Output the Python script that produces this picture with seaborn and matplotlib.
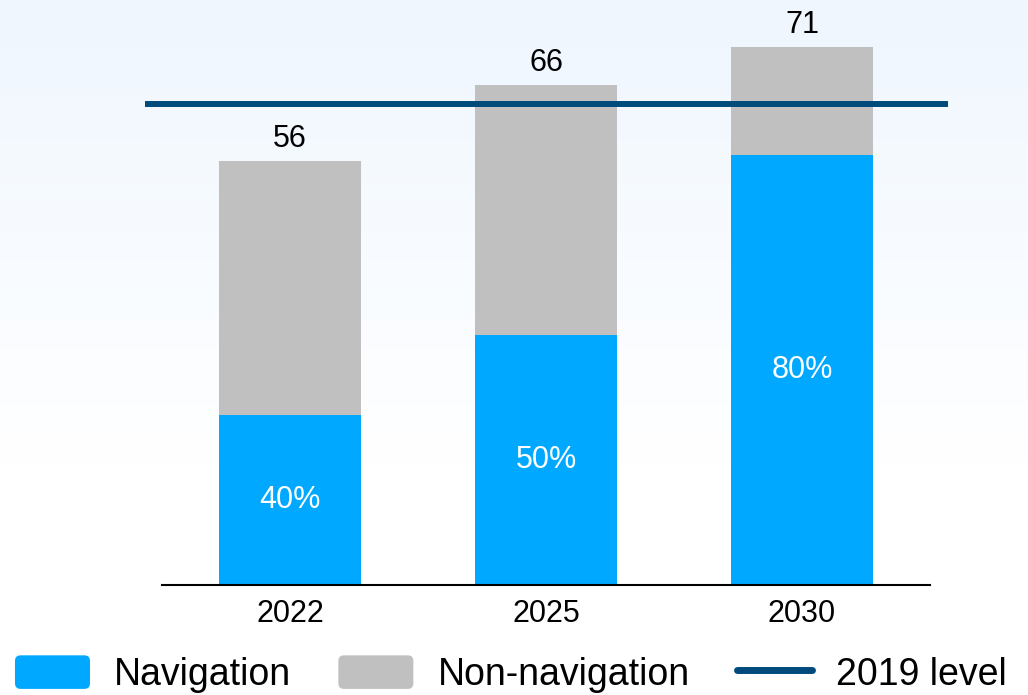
import numpy as np
import matplotlib
matplotlib.use("Agg")
import matplotlib.pyplot as plt
import matplotlib.patches as mpatches
from matplotlib.lines import Line2D
from matplotlib.legend_handler import HandlerPatch
from matplotlib.colors import LinearSegmentedColormap
import seaborn as sns

# data
years = ["2022", "2025", "2030"]
totals = [56, 66, 71]
nav_share = [0.40, 0.50, 0.80]
level_2019 = 63.5

BLUE = "#00A9FF"
GRAY = "#C0C0C0"
NAVY = "#004A7C"

sns.set_theme(style="white")
plt.rcParams["font.family"] = ["Liberation Sans", "DejaVu Sans"]
plt.rcParams["text.color"] = "black"

nav_vals = [t * s for t, s in zip(totals, nav_share)]

fig = plt.figure(figsize=(10.28, 6.95), dpi=100)

# background gradient (light blue at top fading to white)
bg = fig.add_axes([0, 0, 1, 1], zorder=-10)
cmap = LinearSegmentedColormap.from_list("bg", ["#EFF6FE", "#F7FBFF", "#FFFFFF", "#FFFFFF"])
grad = np.linspace(0, 1, 256).reshape(-1, 1)
bg.imshow(grad, aspect="auto", cmap=cmap, extent=[0, 1, 0, 1], origin="upper")
bg.axis("off")

ax = fig.add_axes([0.1576, 0.1583, 0.7471, 0.8417])
ax.set_facecolor("none")

sns.barplot(x=years, y=totals, color=GRAY, width=0.555, saturation=1,
            linewidth=0, ax=ax, zorder=2)
sns.barplot(x=years, y=nav_vals, color=BLUE, width=0.555, saturation=1,
            linewidth=0, ax=ax, zorder=3)

ax.set_xlim(-0.5, 2.5)
ax.set_ylim(0, 77.2)

# 2019 reference line, extends a bit beyond the axes
ax.plot([-0.566, 2.57], [level_2019, level_2019], color=NAVY, lw=4.3,
        clip_on=False, zorder=4, solid_capstyle="butt")

# labels
for i, (t, n, s) in enumerate(zip(totals, nav_vals, nav_share)):
    ax.annotate(f"{t}", (i, t), xytext=(0, 5), textcoords="offset points",
                ha="center", va="bottom", fontsize=22, color="black")
    ax.text(i, n / 2, f"{int(round(s * 100))}%", ha="center", va="center",
            fontsize=22, color="white", zorder=5)

for sp in ["top", "right", "left"]:
    ax.spines[sp].set_visible(False)
ax.spines["bottom"].set_color("black")
ax.spines["bottom"].set_linewidth(1.5)
ax.spines["bottom"].set_zorder(6)
ax.set_yticks([])
ax.tick_params(axis="x", length=0, pad=10, labelsize=22, colors="black")
ax.set_xlabel("")
ax.set_ylabel("")


class RoundHandler(HandlerPatch):
    def create_artists(self, legend, orig_handle, xdescent, ydescent,
                       width, height, fontsize, trans):
        p = mpatches.FancyBboxPatch((-xdescent, -ydescent), width, height,
                                    boxstyle="round,pad=0,rounding_size=4",
                                    fc=orig_handle.get_facecolor(), ec="none",
                                    transform=trans)
        return [p]


handles = [mpatches.Patch(color=BLUE, label="Navigation"),
           mpatches.Patch(color=GRAY, label="Non-navigation"),
           Line2D([], [], color=NAVY, lw=5, label="2019 level")]
leg = fig.legend(handles=handles, loc="center", bbox_to_anchor=(0.497, 0.030), ncol=3,
                 frameon=False, fontsize=27, handlelength=2.0, handleheight=1.0,
                 handletextpad=0.65, columnspacing=1.25,
                 handler_map={mpatches.Patch: RoundHandler()})
for txt in leg.get_texts():
    txt.set_color("black")

fig.savefig("out.png", dpi=100)
